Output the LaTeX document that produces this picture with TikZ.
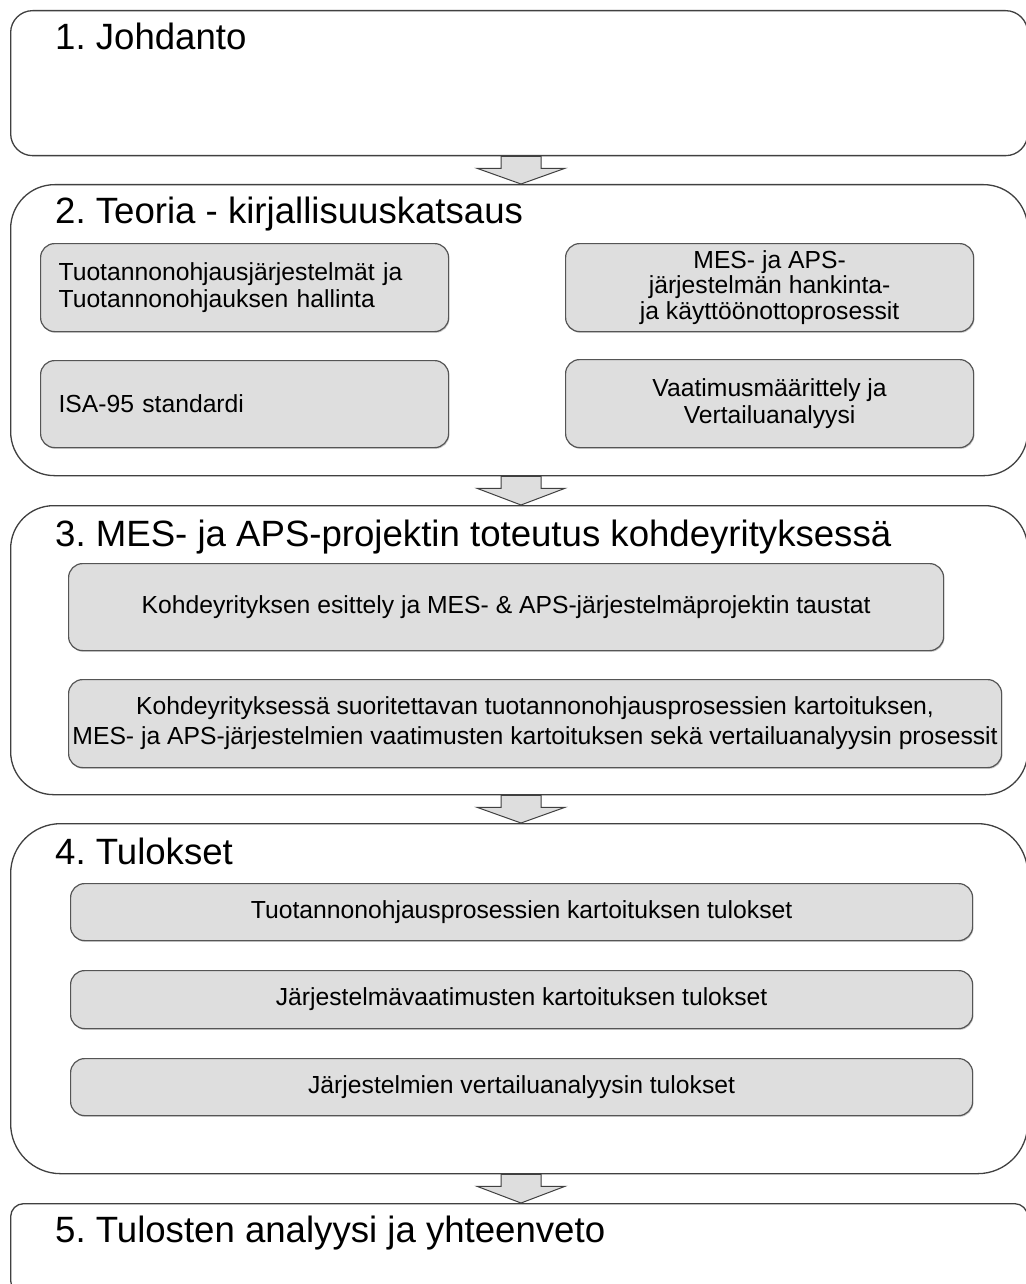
\documentclass[tikz,border=0pt]{standalone}
\usepackage{fontspec}
\setmainfont{Liberation Sans}
\usetikzlibrary{calc,shadows}

\definecolor{edge}{HTML}{404040}
\definecolor{boxfill}{HTML}{DEDEDE}
\definecolor{boxedge}{HTML}{555555}

\newcommand\titlefont{\fontsize{36.6pt}{42pt}\selectfont}
\newcommand\itemfont{\fontsize{24.7pt}{27pt}\selectfont}

\tikzset{
  section/.style={draw=edge, line width=1.3pt, fill=white, anchor=north west,
    inner sep=0pt},
  item/.style={draw=boxedge, line width=1.2pt, fill=boxfill, rounded corners=14pt,
    anchor=north west, inner sep=0pt, font=\itemfont,
    drop shadow={shadow xshift=0.8pt, shadow yshift=-1.3pt, fill=black!40}},
  leftitem/.style={item, inner xsep=18pt, align=left},
  centeritem/.style={item, align=center},
  title/.style={anchor=base west, inner sep=0pt, font=\titlefont},
  flowarrow/.style={draw=edge, line width=1pt, fill=boxfill, line join=miter}
}

% block arrow pointing down from one section box to the next
\newcommand\flowarrow[2]{%
  \draw[flowarrow] let \p1=(#1.south), \p2=(#2.north) in
    (501pt,\y1) -- (501pt,\y1-12pt) -- (477pt,\y1-12pt) -- (521pt,\y2)
    -- (565pt,\y1-12pt) -- (541pt,\y1-12pt) -- (541pt,\y1) -- cycle;}

\begin{document}
\frenchspacing
\begin{tikzpicture}[x=1pt, y=-1pt]
  \useasboundingbox (0,0) rectangle (1025,1284);
  \fill[white] (0,0) rectangle (1025,1284);

  % section frames
  \node[section, rounded corners=22pt, minimum width=1017pt, minimum height=145pt] (b1) at (10,10) {};
  \node[section, rounded corners=44pt, minimum width=1017pt, minimum height=291pt] (b2) at (10,184) {};
  \node[section, rounded corners=43pt, minimum width=1017pt, minimum height=289pt] (b3) at (10,505) {};
  \node[section, rounded corners=50pt, minimum width=1017pt, minimum height=350pt] (b4) at (10,823) {};
  \node[section, rounded corners=13pt, minimum width=1017pt, minimum height=90pt] (b5) at (10,1203) {};

  % section titles
  \node[title] (t1) at (55,50) {1. Johdanto};
  \node[title] (t2) at (55,223) {2. Teoria - kirjallisuuskatsaus};
  \node[title] (t3) at (55,546) {3. MES- ja APS-projektin toteutus kohdeyrityksessä};
  \node[title] (t4) at (55,864) {4. Tulokset};
  \node[title] (t5) at (55,1242) {5. Tulosten analyysi ja yhteenveto};

  % 2. Teoria
  \node[leftitem, text width=372pt, minimum height=88pt] (i21) at (40,243)
    {Tuotannonohjausjärjestelmät ja\\Tuotannonohjauksen hallinta};
  \node[centeritem, minimum width=408pt, minimum height=88pt,
        font=\fontsize{24.7pt}{25.5pt}\selectfont] (i22) at (565,243)
    {MES- ja APS-\\järjestelmän hankinta-\\ja käyttöönottoprosessit};
  \node[leftitem, text width=372pt, minimum height=87pt] (i23) at (40,360)
    {ISA-95 standardi};
  \node[centeritem, minimum width=408pt, minimum height=88pt] (i24) at (565,359)
    {Vaatimusmäärittely ja\\Vertailuanalyysi};

  % 3. Toteutus
  \node[centeritem, minimum width=875pt, minimum height=87pt] (i31) at (68,563)
    {Kohdeyrityksen esittely ja MES- \& APS-järjestelmäprojektin taustat};
  \node[centeritem, minimum width=933pt, minimum height=88pt,
        font=\fontsize{24.7pt}{30pt}\selectfont] (i32) at (68,679)
    {Kohdeyrityksessä suoritettavan tuotannonohjausprosessien kartoituksen,\\
     MES- ja APS-järjestelmien vaatimusten kartoituksen sekä vertailuanalyysin prosessit};

  % 4. Tulokset
  \node[centeritem, minimum width=902pt, minimum height=57pt] (i41) at (70,883)
    {Tuotannonohjausprosessien kartoituksen tulokset};
  \node[centeritem, minimum width=902pt, minimum height=58pt] (i42) at (70,970)
    {Järjestelmävaatimusten kartoituksen tulokset};
  \node[centeritem, minimum width=902pt, minimum height=57pt] (i43) at (70,1058)
    {Järjestelmien vertailuanalyysin tulokset};

  % flow between sections
  \flowarrow{b1}{b2}
  \flowarrow{b2}{b3}
  \flowarrow{b3}{b4}
  \flowarrow{b4}{b5}
\end{tikzpicture}
\end{document}
